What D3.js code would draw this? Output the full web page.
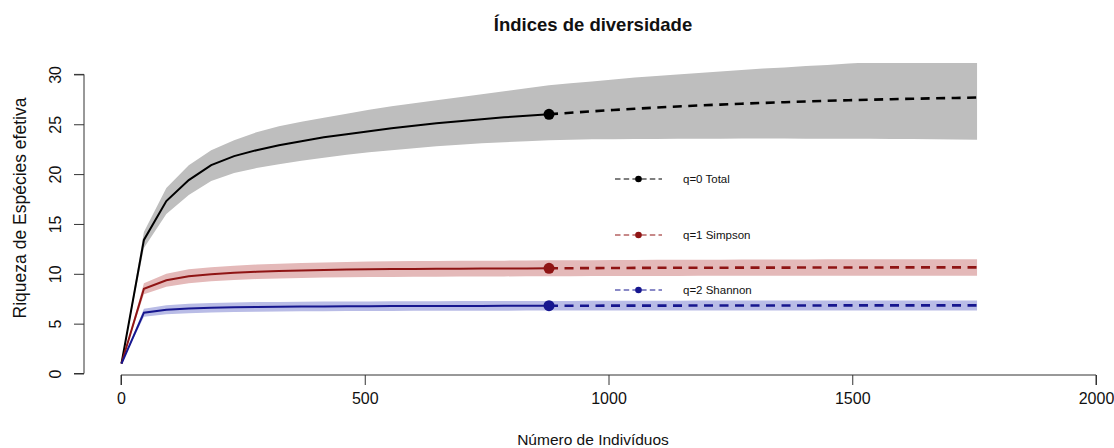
<!DOCTYPE html>
<html><head><meta charset="utf-8">
<script src="https://cdn.jsdelivr.net/npm/d3@7"></script>
<style>body{margin:0;background:#fff}svg{display:block;font-family:"Liberation Sans",Arial,sans-serif}</style>
</head><body><svg id="c" width="1114" height="448"></svg>
<script>
const title = "Índices de diversidade";
const xTitle = "Número de Indivíduos";
const yTitle = "Riqueza de Espécies efetiva";
const xTicks = [0, 500, 1000, 1500, 2000];
const yTicks = [0, 5, 10, 15, 20, 25, 30];
const legendLabels = ["q=0 Total", "q=1 Simpson", "q=2 Shannon"];

const mRare = [1, 47, 93, 139, 185, 232, 278, 324, 370, 416, 463, 509, 555, 601, 647, 694, 740, 786, 832, 878];
const mExtra = [878, 922, 966, 1010, 1054, 1098, 1141, 1185, 1229, 1273, 1317, 1361, 1405, 1449, 1493, 1537, 1580, 1624, 1668, 1712, 1756];

const q0Rare = [1, 13.4, 17.3, 19.4, 20.9, 21.8, 22.4, 22.9, 23.3, 23.7, 24.0, 24.3, 24.6, 24.85, 25.1, 25.3, 25.5, 25.7, 25.85, 26.0];
const q0Extra = [26.0, 26.15, 26.3, 26.43, 26.55, 26.67, 26.78, 26.88, 26.97, 27.06, 27.14, 27.21, 27.28, 27.35, 27.41, 27.46, 27.51, 27.56, 27.6, 27.64, 27.68];
const q0LoRare = [1, 12.6, 16.0, 17.9, 19.3, 20.1, 20.6, 21.0, 21.35, 21.65, 21.95, 22.2, 22.4, 22.6, 22.8, 22.95, 23.1, 23.2, 23.3, 23.4];
const q0HiRare = [1, 14.2, 18.6, 20.9, 22.4, 23.4, 24.2, 24.8, 25.25, 25.65, 26.05, 26.45, 26.8, 27.1, 27.4, 27.7, 28.0, 28.3, 28.6, 28.9];
const q0LoExtra = [23.4, 23.45, 23.5, 23.5, 23.52, 23.53, 23.54, 23.55, 23.55, 23.56, 23.56, 23.56, 23.55, 23.55, 23.55, 23.54, 23.53, 23.52, 23.5, 23.48, 23.45];
const q0HiExtra = [28.9, 29.1, 29.3, 29.5, 29.7, 29.85, 30.0, 30.15, 30.3, 30.45, 30.6, 30.7, 30.85, 30.95, 31.1, 31.2, 31.3, 31.4, 31.5, 31.6, 31.7];

const q1Rare = [1, 8.5, 9.35, 9.75, 9.95, 10.1, 10.2, 10.27, 10.33, 10.38, 10.42, 10.45, 10.47, 10.49, 10.5, 10.51, 10.52, 10.53, 10.54, 10.55];
const q1Extra = [10.55, 10.56, 10.57, 10.58, 10.59, 10.6, 10.6, 10.61, 10.61, 10.62, 10.62, 10.62, 10.63, 10.63, 10.63, 10.63, 10.64, 10.64, 10.64, 10.64, 10.64];
const q1LoRare = [1, 7.95, 8.7, 9.05, 9.25, 9.38, 9.47, 9.53, 9.58, 9.62, 9.65, 9.67, 9.69, 9.7, 9.71, 9.72, 9.73, 9.74, 9.75, 9.75];
const q1HiRare = [1, 9.05, 10.0, 10.45, 10.65, 10.82, 10.93, 11.01, 11.08, 11.14, 11.19, 11.23, 11.25, 11.28, 11.29, 11.3, 11.31, 11.32, 11.33, 11.35];
const q1LoExtra = [9.75, 9.76, 9.77, 9.78, 9.78, 9.79, 9.79, 9.8, 9.8, 9.8, 9.8, 9.8, 9.8, 9.8, 9.8, 9.8, 9.8, 9.8, 9.8, 9.8, 9.8];
const q1HiExtra = [11.35, 11.36, 11.37, 11.38, 11.39, 11.4, 11.41, 11.42, 11.42, 11.43, 11.43, 11.44, 11.44, 11.45, 11.45, 11.45, 11.46, 11.46, 11.46, 11.47, 11.47];

const q2Rare = [1, 6.1, 6.4, 6.52, 6.6, 6.65, 6.68, 6.7, 6.72, 6.73, 6.74, 6.75, 6.76, 6.77, 6.77, 6.78, 6.78, 6.79, 6.79, 6.8];
const q2Extra = [6.8, 6.8, 6.8, 6.81, 6.81, 6.81, 6.81, 6.82, 6.82, 6.82, 6.82, 6.82, 6.82, 6.83, 6.83, 6.83, 6.83, 6.83, 6.83, 6.83, 6.83];
const q2LoRare = [1, 5.7, 5.95, 6.05, 6.12, 6.17, 6.2, 6.22, 6.24, 6.25, 6.26, 6.27, 6.28, 6.29, 6.29, 6.3, 6.3, 6.3, 6.31, 6.31];
const q2HiRare = [1, 6.5, 6.85, 6.99, 7.08, 7.13, 7.16, 7.18, 7.2, 7.21, 7.22, 7.23, 7.24, 7.25, 7.25, 7.26, 7.26, 7.27, 7.27, 7.28];
const q2LoExtra = [6.31, 6.31, 6.31, 6.31, 6.31, 6.31, 6.31, 6.31, 6.31, 6.31, 6.31, 6.31, 6.31, 6.31, 6.31, 6.31, 6.31, 6.31, 6.31, 6.31, 6.31];
const q2HiExtra = [7.28, 7.28, 7.29, 7.29, 7.3, 7.3, 7.3, 7.31, 7.31, 7.31, 7.31, 7.32, 7.32, 7.32, 7.32, 7.32, 7.33, 7.33, 7.33, 7.33, 7.33];

const lineColors = ["#000000", "#8f1414", "#16168f"];
const bandColors = ["#bebebe", "#e4b9b9", "#b9bce6"];

const series = [
  {rare: q0Rare, extra: q0Extra, lo: q0LoRare.concat(q0LoExtra.slice(1)), hi: q0HiRare.concat(q0HiExtra.slice(1))},
  {rare: q1Rare, extra: q1Extra, lo: q1LoRare.concat(q1LoExtra.slice(1)), hi: q1HiRare.concat(q1HiExtra.slice(1))},
  {rare: q2Rare, extra: q2Extra, lo: q2LoRare.concat(q2LoExtra.slice(1)), hi: q2HiRare.concat(q2HiExtra.slice(1))}
];
const mAll = mRare.concat(mExtra.slice(1));

const svg = d3.select("#c");
const x = d3.scaleLinear().domain([0, 2000]).range([121, 1096]);
const y = d3.scaleLinear().domain([0, 30]).range([373.5, 74.4]);
const plotTop = 63, plotBottom = 375, plotLeft = 83, plotRight = 1135;

svg.append("defs").append("clipPath").attr("id", "clip")
  .append("rect").attr("x", plotLeft).attr("y", plotTop)
  .attr("width", plotRight - plotLeft).attr("height", plotBottom - plotTop);

const g = svg.append("g").attr("clip-path", "url(#clip)");

// bands
series.forEach((s, i) => {
  const area = d3.area().x((d, j) => x(mAll[j])).y0((d, j) => y(s.lo[j])).y1((d, j) => y(s.hi[j]));
  g.append("path").attr("d", area(mAll)).attr("fill", bandColors[i]).attr("stroke", "none");
});
// lines
series.forEach((s, i) => {
  const lr = d3.line().x((d, j) => x(mRare[j])).y(d => y(d));
  const le = d3.line().x((d, j) => x(mExtra[j])).y(d => y(d));
  g.append("path").attr("d", lr(s.rare)).attr("fill", "none").attr("stroke", lineColors[i]).attr("stroke-width", 2);
  g.append("path").attr("d", le(s.extra)).attr("fill", "none").attr("stroke", lineColors[i])
    .attr("stroke-width", 2.6).attr("stroke-dasharray", "9,6.5");
  g.append("circle").attr("cx", x(mRare[mRare.length - 1])).attr("cy", y(s.rare[s.rare.length - 1]))
    .attr("r", 5.5).attr("fill", lineColors[i]);
});

// axes
const axisColor = "#333";
const xa = svg.append("g").attr("transform", "translate(0,375)")
  .call(d3.axisBottom(x).tickValues(xTicks).tickSize(10).tickPadding(8).tickFormat(d3.format("d")));
xa.select(".domain").attr("stroke", axisColor).attr("d", `M${x(0)},10V0H${x(2000)}V10`);
xa.selectAll(".tick line").attr("stroke", axisColor);
xa.selectAll("text").attr("font-size", 16).attr("fill", "#111").attr("font-family", "Liberation Sans, Arial, sans-serif");

const ya = svg.append("g").attr("transform", "translate(84,0)")
  .call(d3.axisLeft(y).tickValues(yTicks).tickSize(10).tickPadding(6));
ya.select(".domain").attr("stroke", axisColor).attr("d", `M-10,${y(0)}H0V${y(30)}H-10`);
ya.selectAll(".tick line").attr("stroke", axisColor);
ya.selectAll(".tick text").attr("font-size", 16).attr("fill", "#111")
  .attr("font-family", "Liberation Sans, Arial, sans-serif")
  .attr("x", null).attr("dy", null)
  .attr("text-anchor", "middle")
  .attr("transform", "translate(-23,0) rotate(-90)");

// titles
svg.append("text").attr("x", 593).attr("y", 31).attr("text-anchor", "middle")
  .attr("font-size", 18.5).attr("font-weight", "bold").attr("fill", "#111").text(title);
svg.append("text").attr("x", 593).attr("y", 445).attr("text-anchor", "middle")
  .attr("font-size", 15.5).attr("fill", "#111").text(xTitle);
svg.append("text").attr("transform", "translate(26,208) rotate(-90)").attr("text-anchor", "middle")
  .attr("font-size", 17.5).attr("fill", "#111").text(yTitle);

// legend
const legY = [179, 235, 290];
legendLabels.forEach((lab, i) => {
  const lg = svg.append("g");
  lg.append("line").attr("x1", 615).attr("x2", 662).attr("y1", legY[i]).attr("y2", legY[i])
    .attr("stroke", lineColors[i]).attr("stroke-width", 1.2).attr("stroke-dasharray", "5.5,3.2");
  lg.append("circle").attr("cx", 638.5).attr("cy", legY[i]).attr("r", 3.3).attr("fill", lineColors[i]);
  lg.append("text").attr("x", 683).attr("y", legY[i] + 4).attr("font-size", 11.5).attr("fill", "#111").text(lab);
});
</script></body></html>
